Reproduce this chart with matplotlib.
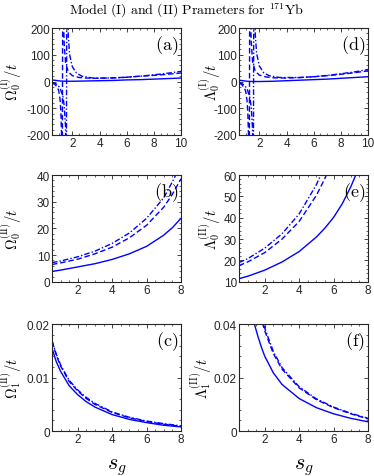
import numpy as np
import matplotlib
matplotlib.use('Agg')
import matplotlib.pyplot as plt
from matplotlib.ticker import AutoMinorLocator

plt.rcParams['font.family'] = 'Liberation Sans'
plt.rcParams['mathtext.fontset'] = 'cm'

# ---- data ----
# panel (a)  Omega_0^(I)/t
a_solid_x = [0.5, 0.8, 1.1, 1.5, 2.0, 3.0, 4.0, 5.0, 6.0, 7.0, 8.0, 9.0, 10.0]
a_solid_y = [6, 4, 2, 1, 1, 2, 3, 4, 6, 7, 9, 11, 13]
a_dash_x = [0.5, 0.7, 0.9, 1.0, 1.1, 1.15, 1.2, 1.25, 1.3, 1.35, 1.4, 1.5, 1.7, 2.0, 2.5, 3.0, 4.0, 5.0, 6.0, 7.0, 8.0, 9.0, 10.0]
a_dash_y = [-6, -10, -22, -35, -70, -110, -190, -600, 600, 230, 140, 70, 36, 22, 15, 13, 12, 14, 16, 20, 23, 27, 32]
a_dd_x = [0.5, 0.7, 0.9, 1.1, 1.3, 1.4, 1.5, 1.55, 1.6, 1.65, 1.7, 1.8, 2.0, 2.3, 2.7, 3.5, 5.0, 6.0, 7.0, 8.0, 9.0, 10.0]
a_dd_y = [-3, -6, -12, -25, -55, -90, -170, -600, 600, 260, 170, 100, 55, 32, 20, 13, 13, 16, 20, 25, 31, 38]

# panel (d)  Lambda_0^(I)/t
d_solid_x = [0.5, 0.8, 1.1, 1.5, 2.0, 3.0, 4.0, 5.0, 6.0, 7.0, 8.0, 9.0, 10.0]
d_solid_y = [5, 3, 1, 0, 0, 1, 3, 5, 7, 9, 12, 15, 18]
d_dash_x = [0.5, 0.7, 0.9, 1.0, 1.1, 1.15, 1.2, 1.25, 1.3, 1.35, 1.4, 1.5, 1.7, 2.0, 2.5, 3.0, 4.0, 5.0, 6.0, 7.0, 8.0, 9.0, 10.0]
d_dash_y = [-6, -11, -24, -38, -75, -120, -200, -600, 600, 240, 150, 75, 38, 24, 17, 14, 13, 15, 18, 22, 27, 33, 40]
d_dd_x = [0.5, 0.7, 0.9, 1.1, 1.3, 1.4, 1.5, 1.55, 1.6, 1.65, 1.7, 1.8, 2.0, 2.3, 2.7, 3.5, 5.0, 6.0, 7.0, 8.0, 9.0, 10.0]
d_dd_y = [-3, -7, -14, -28, -60, -95, -180, -600, 600, 270, 175, 105, 58, 34, 22, 15, 15, 18, 23, 29, 36, 45]

# panel (b)  Omega_0^(II)/t
b_x = [0.5, 1.0, 2.0, 3.0, 4.0, 5.0, 6.0, 7.0, 7.5, 8.0]
b_solid = [3.9, 4.4, 5.6, 6.8, 8.4, 10.5, 13.3, 17.5, 20.3, 23.8]
b_dash = [6.5, 7.1, 8.5, 10.5, 13.0, 16.5, 21.2, 28.0, 32.8, 38.6]
b_dd = [7.2, 7.8, 9.4, 11.5, 14.4, 18.3, 23.8, 31.5, 37.5, 44.0]

# panel (e)  Lambda_0^(II)/t
e_x = [0.5, 1.0, 2.0, 3.0, 4.0, 5.0, 5.5, 6.0, 6.5, 7.0, 7.5]
e_solid = [11.5, 12.6, 15.5, 19.3, 24.2, 31.0, 35.2, 40.2, 46.5, 54.5, 64.0]
e_dash = [17.6, 19.3, 23.7, 30.0, 38.3, 50.5, 58.5, 68.0, 79.0, 92.0, 107.0]
e_dd = [19.0, 20.8, 25.8, 32.5, 41.8, 55.5, 64.5, 75.0, 87.0, 101.0, 118.0]

# panel (c)  Omega_1^(II)/t
c_x = [0.5, 0.75, 1.0, 1.5, 2.0, 2.5, 3.0, 4.0, 5.0, 6.0, 7.0, 8.0]
c_solid = [0.0155, 0.0130, 0.0112, 0.0085, 0.0068, 0.0055, 0.0045, 0.0031, 0.0022, 0.0016, 0.0011, 0.0008]
c_dash = [0.0168, 0.0142, 0.0122, 0.0093, 0.0075, 0.0061, 0.0050, 0.0035, 0.0025, 0.0018, 0.0013, 0.0009]
c_dd = [0.0170, 0.0144, 0.0124, 0.0095, 0.0077, 0.0063, 0.0052, 0.0036, 0.0026, 0.0019, 0.0014, 0.0010]

# panel (f)  Lambda_1^(II)/t
f_x = [1.2, 1.4, 1.6, 1.8, 2.0, 2.5, 3.0, 4.0, 5.0, 6.0, 7.0, 8.0]
f_solid = [0.046, 0.040, 0.0355, 0.0315, 0.0280, 0.0218, 0.0175, 0.0122, 0.0088, 0.0065, 0.0048, 0.0035]
f_dash = [0.062, 0.054, 0.047, 0.042, 0.0375, 0.0290, 0.0232, 0.0162, 0.0118, 0.0088, 0.0065, 0.0046]
f_dd = [0.064, 0.056, 0.049, 0.043, 0.0385, 0.0298, 0.0238, 0.0166, 0.0121, 0.0090, 0.0067, 0.0048]

blue = (0, 0, 1)
lw = 1.0
dash_sty = (0, (4, 2))
dd_sty = (0, (4, 1.5, 1, 1.5))


def style_axes(ax, xlim, ylim, xticks, yticks, yticklabels, tag):
    ax.set_xlim(*xlim)
    ax.set_ylim(*ylim)
    ax.set_xticks(xticks)
    ax.set_yticks(yticks)
    ax.set_yticklabels(yticklabels)
    ax.xaxis.set_minor_locator(AutoMinorLocator(4))
    ax.yaxis.set_minor_locator(AutoMinorLocator(5))
    ax.tick_params(which='both', direction='in', top=True, right=True, labelsize=8.5,
                   colors='#262626', pad=1.5)
    ax.tick_params(which='major', length=3, width=0.6)
    ax.tick_params(which='minor', length=1.6, width=0.5)
    for sp in ax.spines.values():
        sp.set_linewidth(0.8)
        sp.set_color('#262626')
    ax.text(0.975, 0.95, r'$\mathrm{' + tag + '}$', transform=ax.transAxes,
            ha='right', va='top', fontsize=13)


fig = plt.figure(figsize=(3.74, 4.77), dpi=100)
lefts = [0.139, 0.639]
bottoms = [0.715, 0.407, 0.094]
w, h = 0.345, 0.224

ax_a = fig.add_axes([lefts[0], bottoms[0], w, h])
ax_d = fig.add_axes([lefts[1], bottoms[0], w, h])
ax_b = fig.add_axes([lefts[0], bottoms[1], w, h])
ax_e = fig.add_axes([lefts[1], bottoms[1], w, h])
ax_c = fig.add_axes([lefts[0], bottoms[2], w, h])
ax_f = fig.add_axes([lefts[1], bottoms[2], w, h])

# (a)
ax_a.plot(a_solid_x, a_solid_y, color=blue, lw=lw)
ax_a.plot(a_dash_x, a_dash_y, color=blue, lw=lw, linestyle=dash_sty)
ax_a.plot(a_dd_x, a_dd_y, color=blue, lw=lw, linestyle=dd_sty)
# (d)
ax_d.plot(d_solid_x, d_solid_y, color=blue, lw=lw)
ax_d.plot(d_dash_x, d_dash_y, color=blue, lw=lw, linestyle=dash_sty)
ax_d.plot(d_dd_x, d_dd_y, color=blue, lw=lw, linestyle=dd_sty)
# (b)
ax_b.plot(b_x, b_solid, color=blue, lw=lw)
ax_b.plot(b_x, b_dash, color=blue, lw=lw, linestyle=dash_sty)
ax_b.plot(b_x, b_dd, color=blue, lw=lw, linestyle=dd_sty)
# (e)
ax_e.plot(e_x, e_solid, color=blue, lw=lw)
ax_e.plot(e_x, e_dash, color=blue, lw=lw, linestyle=dash_sty)
ax_e.plot(e_x, e_dd, color=blue, lw=lw, linestyle=dd_sty)
# (c)
ax_c.plot(c_x, c_solid, color=blue, lw=lw)
ax_c.plot(c_x, c_dash, color=blue, lw=lw, linestyle=dash_sty)
ax_c.plot(c_x, c_dd, color=blue, lw=lw, linestyle=dd_sty)
# (f)
ax_f.plot(f_x, f_solid, color=blue, lw=lw)
ax_f.plot(f_x, f_dash, color=blue, lw=lw, linestyle=dash_sty)
ax_f.plot(f_x, f_dd, color=blue, lw=lw, linestyle=dd_sty)

big_ticks = [-200, -100, 0, 100, 200]
style_axes(ax_a, (0.5, 10), (-200, 200), [2, 4, 6, 8, 10], big_ticks,
           [str(t) for t in big_ticks], '(a)')
style_axes(ax_d, (0.5, 10), (-200, 200), [2, 4, 6, 8, 10], big_ticks,
           [str(t) for t in big_ticks], '(d)')
style_axes(ax_b, (0.5, 8), (0, 40), [2, 4, 6, 8], [0, 10, 20, 30, 40],
           ['0', '10', '20', '30', '40'], '(b)')
style_axes(ax_e, (0.5, 8), (10, 60), [2, 4, 6, 8], [10, 20, 30, 40, 50, 60],
           ['10', '20', '30', '40', '50', '60'], '(e)')
style_axes(ax_c, (0.5, 8), (0, 0.02), [2, 4, 6, 8], [0, 0.01, 0.02],
           ['0', '0.01', '0.02'], '(c)')
style_axes(ax_f, (0.5, 8), (0, 0.04), [2, 4, 6, 8], [0, 0.02, 0.04],
           ['0', '0.02', '0.04'], '(f)')

ylabels = [
    (ax_a, r'$\Omega_0^{(\mathrm{I})}/t$', -0.31),
    (ax_d, r'$\Lambda_0^{(\mathrm{I})}/t$', -0.22),
    (ax_b, r'$\Omega_0^{(\mathrm{II})}/t$', -0.31),
    (ax_e, r'$\Lambda_0^{(\mathrm{II})}/t$', -0.22),
    (ax_c, r'$\Omega_1^{(\mathrm{II})}/t$', -0.31),
    (ax_f, r'$\Lambda_1^{(\mathrm{II})}/t$', -0.29),
]
for ax, lab, xpos in ylabels:
    ax.set_ylabel(lab, fontsize=10.5, va='center')
    ax.yaxis.set_label_coords(xpos, 0.5)

for ax in (ax_c, ax_f):
    ax.set_xlabel(r'$s_g$', fontsize=16, va='baseline')
    ax.xaxis.set_label_coords(0.5, -0.35)

fig.text(0.5, 0.996, r'$\mathrm{Model\ (I)\ and\ (II)\ Prameters\ for\ ^{171}Yb}$',
         ha='center', va='top', fontsize=10)

fig.savefig('out.png', dpi=100)
